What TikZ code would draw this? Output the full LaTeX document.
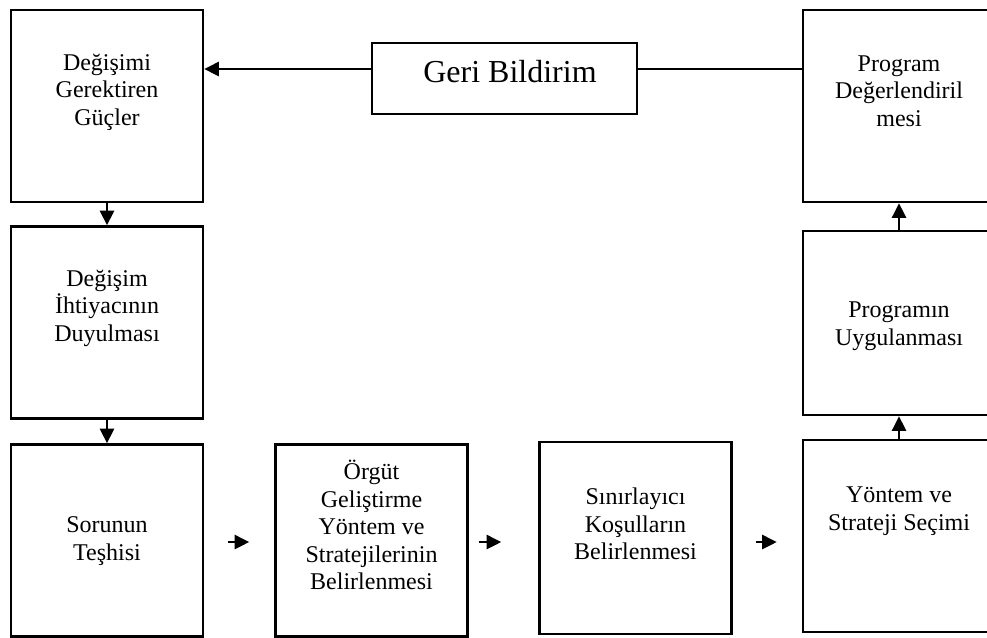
\documentclass[tikz,border=0pt]{standalone}
\usepackage{fontspec}
\setmainfont{Liberation Serif}
\usetikzlibrary{arrows.meta}

\begin{document}
\begin{tikzpicture}[x=0.75pt,y=0.75pt,yscale=-1,xscale=1,
	box/.style={draw, line width=1.8pt, minimum width=144pt, minimum height=144pt, inner sep=0pt},
	txt/.style={align=center, inner sep=0pt, font=\fontsize{18}{20.7}\selectfont},
	arr/.style={-{Triangle[length=11pt,width=10.5pt]}, line width=1.8pt}]
\useasboundingbox (0,0) rectangle (987,637);
\clip (0,0) rectangle (987,637);
			%Shape: Rectangle [left column]
			\node[box] (b1) at (107,106) {};
			\node[box] (b2) at (107,322.5) {};
			\node[box] (b3) at (107,540.5) {};
			%Shape: Rectangle [bottom row]
			\node[box] (b4) at (371.5,540.5) {};
			\node[box] (b5) at (635.5,538) {};
			%Shape: Rectangle [right column]
			\node[box] (b6) at (899,536) {};
			\node[box, minimum height=138pt] (b7) at (899,323) {};
			\node[box] (b8) at (899,106) {};
			%Shape: Rectangle [feedback]
			\node[box, minimum width=198.75pt, minimum height=53.25pt] (geri) at (504.5,78.5) {};
			% Text Node
			\node[txt] (t1) at (107,92) {Değişimi\\Gerektiren\\Güçler};
			\node[txt] (t2) at (107,308) {Değişim\\İhtiyacının\\Duyulması};
			\node[txt] (t3) at (107,541) {Sorunun\\Teşhisi};
			\node[txt] (t4) at (371.5,525) {Örgüt\\Geliştirme\\Yöntem ve\\Stratejilerinin\\Belirlenmesi};
			\node[txt] (t5) at (635.5,524) {Sınırlayıcı\\Koşulların\\Belirlenmesi};
			\node[txt] (t6) at (899,511) {Yöntem ve\\Strateji Seçimi};
			\node[txt] (t7) at (899,326) {Programın\\Uygulanması};
			\node[txt] (t8) at (899,91) {Program\\Değerlendiril\\mesi};
			\node[txt, font=\fontsize{24}{28}\selectfont] (tg) at (510,72) {Geri Bildirim};
			%Straight Lines [feedback]
			\coordinate (fb) at (0,69);
			\draw[line width=1.8pt] (b8.west |- fb) -- (geri.east |- fb);
			\draw[arr] (geri.west |- fb) -- (b1.east |- fb);
			%Straight Lines [down]
			\draw[arr] (b1) -- (b2);
			\draw[arr] (b2) -- (b3);
			%Straight Lines [across]
			\coordinate (ay) at (0,542);
			\draw[arr, shorten <=18pt, shorten >=18.75pt] (b3.east |- ay) -- (b4.west |- ay);
			\draw[arr, shorten <=7.5pt, shorten >=27.75pt] (b4.east |- ay) -- (b5.west |- ay);
			\draw[arr, shorten <=17.25pt, shorten >=18.75pt] (b5.east |- ay) -- (b6.west |- ay);
			%Straight Lines [up]
			\draw[arr] (b6) -- (b7);
			\draw[arr] (b7) -- (b8);
\end{tikzpicture}
\end{document}
